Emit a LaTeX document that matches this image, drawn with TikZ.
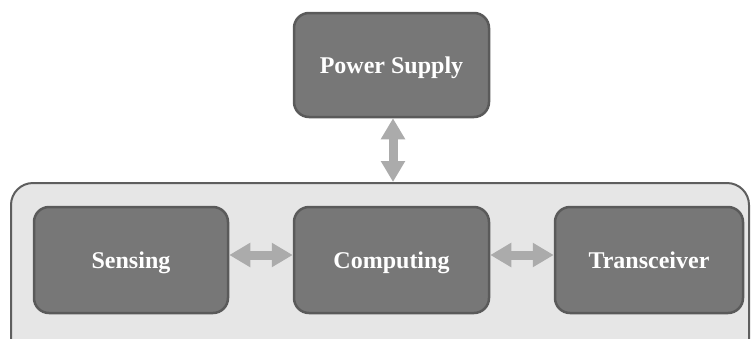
\documentclass[tikz,border=0pt]{standalone}
\usepackage{fontspec}
\setmainfont{Liberation Serif}
\usetikzlibrary{arrows.meta}
\definecolor{boxfill}{HTML}{777777}
\definecolor{boxline}{HTML}{5A5A5A}
\definecolor{panelfill}{HTML}{E6E6E6}
\definecolor{panelline}{HTML}{5E5E5E}
\definecolor{arrowgray}{HTML}{ABABAB}
\tikzset{
  block/.style={draw=boxline, line width=2.5pt, fill=boxfill, rounded corners=15pt,
    text=white, font=\fontsize{24}{28}\selectfont\bfseries, inner sep=0pt,
    text height=23pt, text depth=6pt, minimum height=106pt},
  panel/.style={draw=panelline, line width=2pt, fill=panelfill, rounded corners=22pt,
    inner sep=0pt},
  biarrow/.style={draw=arrowgray, line width=9pt,
    {Triangle[width=23pt,length=21pt]}-{Triangle[width=23pt,length=21pt]}}
}
\begin{document}
\begin{tikzpicture}[x=1pt,y=-1pt]
  \clip (0,0) rectangle (751,338);
  \fill[white] (0,0) rectangle (751,338);
  % enclosing node panel (runs past the lower edge)
  \node[panel, minimum width=738pt, minimum height=190pt] (panel) at (380,278) {};
  % blocks
  \node[block, minimum width=195pt, minimum height=104pt] (power) at (391.5,65) {Power Supply};
  \node[block, minimum width=194pt] (sens) at (131,260) {Sensing};
  \node[block, minimum width=195pt] (comp) at (391.5,260) {Computing};
  \node[block, minimum width=188pt] (trx) at (649,260) {Transceiver};
  % links
  \draw[biarrow] ([xshift=1.5pt]power.south) -- ([xshift=1.5pt]power.south |- panel.north);
  \draw[biarrow] ([yshift=5pt]sens.east) -- ([yshift=5pt]comp.west);
  \draw[biarrow] ([yshift=5pt]comp.east) -- ([yshift=5pt]trx.west);
\end{tikzpicture}
\end{document}
